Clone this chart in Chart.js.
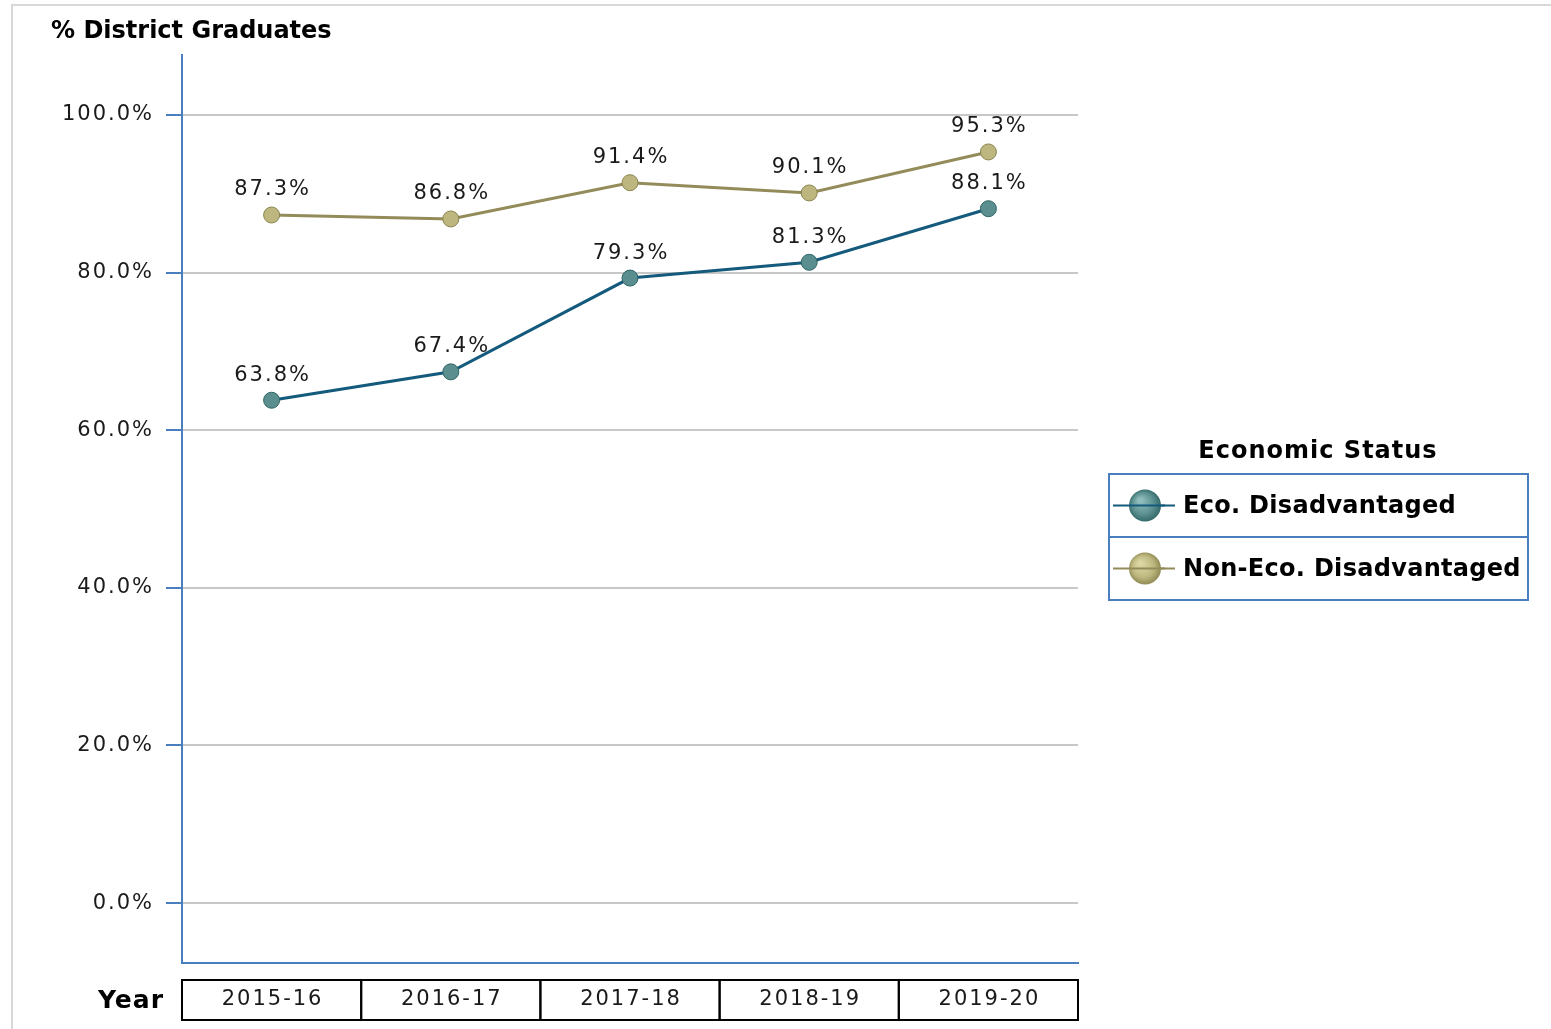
<!DOCTYPE html>
<html>
<head>
<meta charset="utf-8">
<script src="https://cdn.jsdelivr.net/npm/chart.js@4.4.0/dist/chart.umd.min.js"></script>
<style>
  html, body { margin: 0; padding: 0; background: #fff; }
  #wrap { width: 1551px; height: 1029px; position: relative; }
</style>
</head>
<body>
<div id="wrap"><canvas id="grad-chart"></canvas></div>
<script>
const years = ['2015-16', '2016-17', '2017-18', '2018-19', '2019-20'];
const ecoDisadv = [63.8, 67.4, 79.3, 81.3, 88.1];
const nonEcoDisadv = [87.3, 86.8, 91.4, 90.1, 95.3];
const yTicks = [0, 20, 40, 60, 80, 100];

const AXIS_BLUE = '#4a7fbf';
const FONT = '"DejaVu Sans", sans-serif';

const seriesStyle = [
  { label: 'Eco. Disadvantaged', line: '#145a7c', fill: '#5b8f8f', dark: '#2f6466', light: '#8fbcbc' },
  { label: 'Non-Eco. Disadvantaged', line: '#938c5a', fill: '#bdb77f', dark: '#8a8450', light: '#dcd6a4' }
];

// frame, titles, value labels, year table and legend
const decorations = {
  id: 'decorations',
  beforeDraw(chart) {
    const ctx = chart.ctx;
    ctx.save();
    ctx.strokeStyle = '#d8d8d8';
    ctx.lineWidth = 2;
    ctx.strokeRect(12, 5, 1560, 1040);
    ctx.restore();
    ctx.letterSpacing = '2px'; // for the y tick labels
  },
  afterDraw(chart) {
    const ctx = chart.ctx;
    const x = chart.scales.x;
    ctx.save();

    // y axis title
    ctx.fillStyle = '#000';
    ctx.letterSpacing = '0px';
    ctx.font = 'bold 24px ' + FONT;
    ctx.textAlign = 'left';
    ctx.textBaseline = 'middle';
    ctx.fillText('% District Graduates', 51, 32);

    // value labels
    ctx.font = '21px ' + FONT;
    ctx.fillStyle = '#1a1a1a';
    ctx.textAlign = 'center';
    ctx.letterSpacing = '2px';
    chart.data.datasets.forEach((ds, i) => {
      const meta = chart.getDatasetMeta(i);
      meta.data.forEach((pt, j) => {
        ctx.fillText(ds.data[j].toFixed(1) + '%', pt.x + 1, pt.y - 25);
      });
    });

    // year table
    const top = 980, h = 40;
    const half = (x.getPixelForValue(1) - x.getPixelForValue(0)) / 2;
    ctx.strokeStyle = '#000';
    ctx.lineWidth = 2;
    chart.data.labels.forEach((lab, i) => {
      const cx = x.getPixelForValue(i);
      ctx.strokeRect(cx - half, top, half * 2, h);
      ctx.fillText(lab, cx + 1, top + h / 2);
    });
    ctx.letterSpacing = '1px';
    ctx.font = 'bold 25px ' + FONT;
    ctx.fillStyle = '#000';
    ctx.textAlign = 'right';
    ctx.fillText('Year', 164, top + h / 2 + 1);

    // legend
    ctx.font = 'bold 24px ' + FONT;
    ctx.textAlign = 'center';
    ctx.fillText('Economic Status', 1318, 452);
    ctx.letterSpacing = '0.3px';
    const lx = 1109, ly = 474, lw = 419, rowH = 63;
    ctx.strokeStyle = AXIS_BLUE;
    ctx.lineWidth = 2;
    ctx.strokeRect(lx, ly, lw, rowH * 2);
    ctx.beginPath();
    ctx.moveTo(lx, ly + rowH);
    ctx.lineTo(lx + lw, ly + rowH);
    ctx.stroke();
    ctx.textAlign = 'left';
    seriesStyle.forEach((s, i) => {
      const cy = ly + rowH * i + rowH / 2;
      ctx.strokeStyle = s.line;
      ctx.lineWidth = 2;
      ctx.beginPath();
      ctx.moveTo(lx + 4, cy);
      ctx.lineTo(lx + 66, cy);
      ctx.stroke();
      const g = ctx.createRadialGradient(1140, cy - 5, 2, 1145, cy, 17);
      g.addColorStop(0, s.light);
      g.addColorStop(0.6, s.fill);
      g.addColorStop(1, s.dark);
      ctx.fillStyle = g;
      ctx.beginPath();
      ctx.arc(1145, cy, 16, 0, Math.PI * 2);
      ctx.fill();
      ctx.strokeStyle = s.line;
      ctx.beginPath();
      ctx.moveTo(lx + 20, cy);
      ctx.lineTo(lx + 56, cy);
      ctx.stroke();
      ctx.fillStyle = '#000';
      ctx.fillText(s.label, 1183, cy + 1);
    });
    ctx.restore();
    ctx.letterSpacing = '0px';
  }
};

const ctx = document.getElementById('grad-chart').getContext('2d');
const gradChart = new Chart(ctx, {
  type: 'line',
  data: {
    labels: years,
    datasets: [ecoDisadv, nonEcoDisadv].map((d, i) => ({
      label: seriesStyle[i].label,
      data: d,
      borderColor: seriesStyle[i].line,
      borderWidth: 3,
      pointRadius: 8,
      pointBackgroundColor: seriesStyle[i].fill,
      pointBorderColor: seriesStyle[i].dark,
      pointBorderWidth: 1,
      tension: 0
    }))
  },
  options: {
    responsive: true,
    maintainAspectRatio: false,
    animation: false,
    layout: { padding: { left: 0, right: 473, top: 55, bottom: 66 } },
    plugins: { legend: { display: false }, tooltip: { enabled: false } },
    scales: {
      x: {
        offset: true,
        grid: { display: false, drawTicks: false },
        border: { color: AXIS_BLUE, width: 2 },
        ticks: { display: false }
      },
      y: {
        min: -7.6,
        max: 107.6,
        afterBuildTicks(axis) { axis.ticks = yTicks.map(v => ({ value: v })); },
        afterFit(axis) { axis.width = 182; },
        grid: { color: '#c8c8c8', lineWidth: 2, tickLength: 16, tickColor: AXIS_BLUE },
        border: { color: AXIS_BLUE, width: 2 },
        ticks: {
          color: '#1a1a1a',
          padding: 12,
          font: { family: 'DejaVu Sans', size: 21 },
          callback: v => v.toFixed(1) + '%'
        }
      }
    }
  },
  plugins: [decorations]
});
</script>
</body>
</html>
